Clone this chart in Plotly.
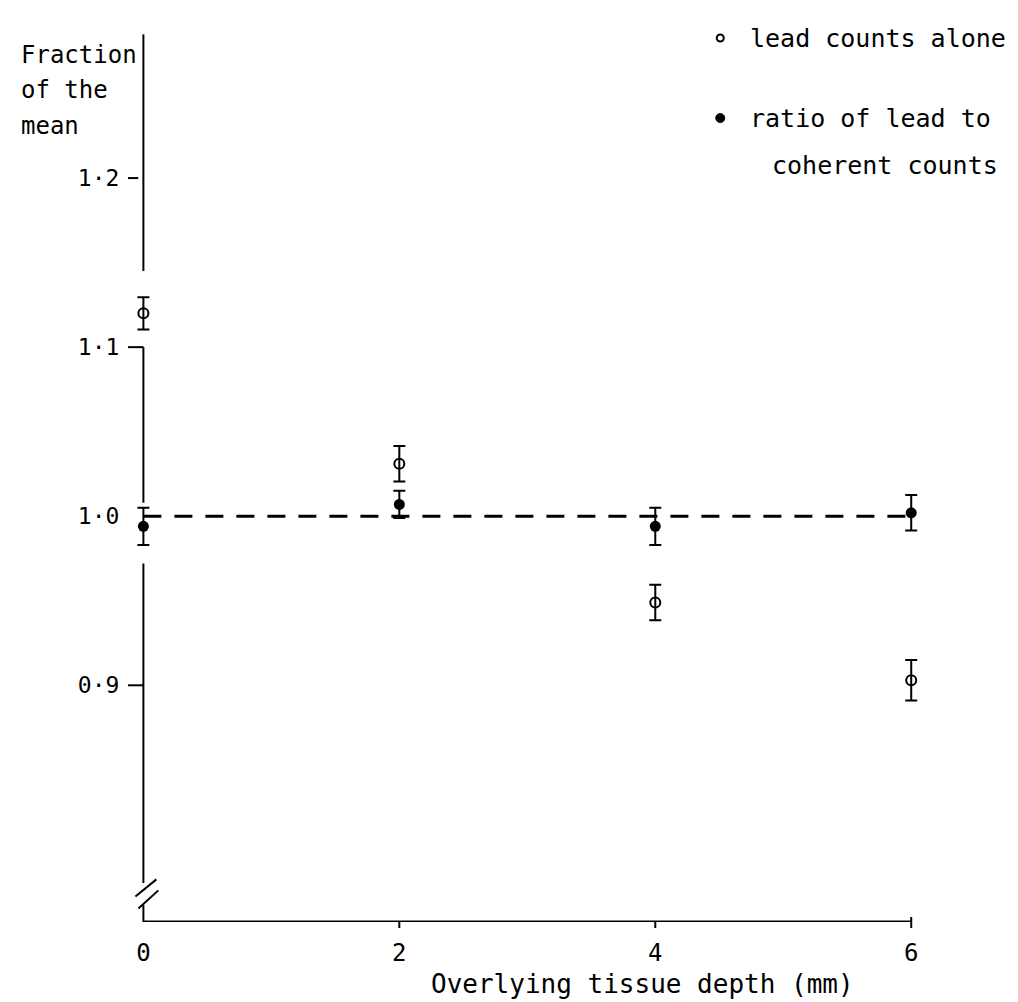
import plotly.graph_objects as go

# ---- data ----
depth_mm = [0, 2, 4, 6]
lead_alone = [1.120, 1.031, 0.949, 0.903]
lead_alone_err = [0.0095, 0.0105, 0.0105, 0.012]
ratio_coherent = [0.994, 1.007, 0.994, 1.002]
ratio_coherent_err = [0.011, 0.008, 0.011, 0.0105]
mean_level = 1.0
x_ticks = [0, 2, 4, 6]
x_tick_labels = ["0", "2", "4", "6"]
y_ticks = [1.2, 1.1, 1.0, 0.9]
y_tick_labels = ["1·2", "1·1", "1·0", "0·9"]
y_ticks_drawn = [1.2, 1.1, 0.9]

FONT = "DejaVu Sans Mono"
W, H = 1018, 1002
XR = [-0.3, 6.6]
YR = [0.76, 1.30]
L, R, T, B = 96.6, 38.2, 1.0, 88.4
PW, PH = W - L - R, H - T - B


def px(xp):
    return (xp - L) / PW


def py(yp):
    return 1 - (yp - T) / PH


fig = go.Figure()

# mean reference dashed line
fig.add_trace(go.Scatter(
    x=[depth_mm[0], depth_mm[-1]], y=[mean_level, mean_level], mode="lines",
    line=dict(color="black", width=3, dash="18px,13px"), hoverinfo="skip",
    showlegend=False))

fig.add_trace(go.Scatter(
    x=depth_mm, y=lead_alone, mode="markers",
    marker=dict(symbol="circle-open", size=10, color="black", line=dict(width=2, color="black")),
    error_y=dict(type="data", array=lead_alone_err, visible=True, color="black",
                 thickness=2, width=6),
    name="lead counts alone", showlegend=False))

fig.add_trace(go.Scatter(
    x=depth_mm, y=ratio_coherent, mode="markers",
    marker=dict(symbol="circle", size=11, color="black"),
    error_y=dict(type="data", array=ratio_coherent_err, visible=True, color="black",
                 thickness=2, width=6),
    name="ratio of lead to coherent counts", showlegend=False))

shapes = []
line_k = dict(color="black", width=2)
# y axis drawn in segments (gaps around points, break near bottom)
for a, b in [(1.285, 1.145), (1.1, 1.008), (0.972, 0.783), (0.770, YR[0])]:
    shapes.append(dict(type="line", xref="x", yref="y", x0=0, x1=0, y0=a, y1=b, line=line_k))
# axis break slashes
shapes.append(dict(type="line", xref="x", yref="y", x0=-0.0625, y0=0.7751, x1=0.1016, y1=0.7852, line=line_k))
shapes.append(dict(type="line", xref="x", yref="y", x0=-0.039, y0=0.7680, x1=0.117, y1=0.7787, line=line_k))
# y ticks
for v in y_ticks_drawn:
    x1 = 0 if v != 1.2 else -0.04
    shapes.append(dict(type="line", xref="x", yref="y", x0=-0.12, x1=x1, y0=v, y1=v, line=line_k))
# x axis
shapes.append(dict(type="line", xref="x", yref="y", x0=0, x1=x_ticks[-1], y0=YR[0], y1=YR[0],
                   line=dict(color="black", width=3)))
for v in x_ticks[1:]:
    shapes.append(dict(type="line", xref="x", yref="paper", x0=v, x1=v, y0=0, y1=-6 / PH, line=line_k))
shapes.append(dict(type="line", xref="x", yref="paper", x0=x_ticks[-1], x1=x_ticks[-1],
                   y0=0, y1=5 / PH, line=line_k))
# legend markers
shapes.append(dict(type="circle", xref="paper", yref="paper", xsizemode="pixel", ysizemode="pixel",
                   xanchor=px(712), yanchor=py(30), x0=-3.5, x1=3.5, y0=-3.5, y1=3.5,
                   line=dict(color="black", width=2), fillcolor="white"))
shapes.append(dict(type="circle", xref="paper", yref="paper", xsizemode="pixel", ysizemode="pixel",
                   xanchor=px(712), yanchor=py(110), x0=-4.5, x1=4.5, y0=-4.5, y1=4.5,
                   line=dict(color="black", width=1), fillcolor="black"))

ann = []
tf = dict(family=FONT, size=25, color="black")
ann.append(dict(text="lead counts alone", xref="paper", yref="paper", x=px(740), y=py(30),
                xanchor="left", yanchor="middle", showarrow=False, font=tf))
ann.append(dict(text="ratio of lead to", xref="paper", yref="paper", x=px(740), y=py(110),
                xanchor="left", yanchor="middle", showarrow=False, font=tf))
ann.append(dict(text="coherent counts", xref="paper", yref="paper", x=px(762), y=py(157),
                xanchor="left", yanchor="middle", showarrow=False, font=tf))
yf = dict(family=FONT, size=24, color="black")
for txt, yp in [("Fraction", 47), ("of the", 82), ("mean", 118)]:
    ann.append(dict(text=txt, xref="paper", yref="paper", x=px(11), y=py(yp),
                    xanchor="left", yanchor="middle", showarrow=False, font=yf))
ann.append(dict(text="Overlying tissue depth (mm)", xref="paper", yref="paper", x=px(634), y=py(976),
                xanchor="center", yanchor="middle", showarrow=False,
                font=dict(family=FONT, size=26, color="black")))

fig.update_layout(
    width=W, height=H, margin=dict(l=L, r=R, t=T, b=B),
    paper_bgcolor="white", plot_bgcolor="white",
    shapes=shapes, annotations=ann, showlegend=False,
    xaxis=dict(range=XR, showgrid=False, zeroline=False, showline=False, ticks="",
               tickvals=x_ticks, ticktext=x_tick_labels, ticklabelstandoff=14,
               tickfont=dict(family=FONT, size=24, color="black")),
    yaxis=dict(range=YR, showgrid=False, zeroline=False, showline=False, ticks="",
               anchor="free", position=px(135),
               tickvals=y_ticks, ticktext=y_tick_labels, ticklabelstandoff=24,
               tickfont=dict(family=FONT, size=23, color="black")),
)

fig.write_html("out.html")
